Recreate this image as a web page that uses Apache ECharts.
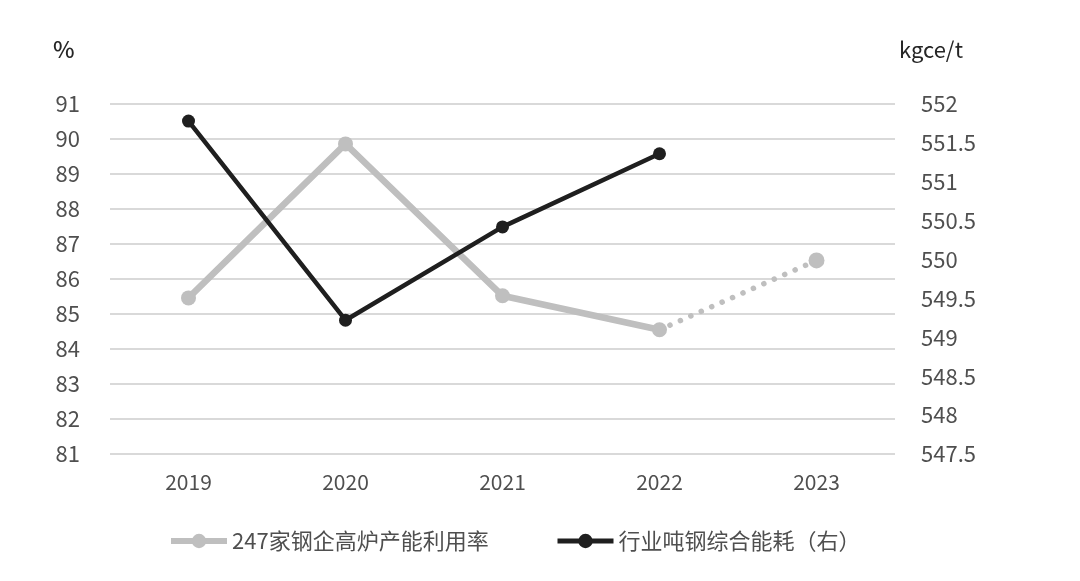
<!DOCTYPE html>
<html>
<head>
<meta charset="utf-8">
<script src="https://cdn.jsdelivr.net/npm/echarts@6/dist/echarts.min.js"></script>
<style>
html,body{margin:0;padding:0;background:#fff;}
#main{width:1080px;height:581px;}
</style>
</head>
<body>
<div id="main"></div>
<script>
const categories = ['2019', '2020', '2021', '2022', '2023'];
const utilizationName = '247家钢企高炉产能利用率';
const utilization = [85.46, 89.86, 85.52, 84.55, null];
const utilizationForecast = [null, null, null, 84.55, 86.53];
const energyName = '行业吨钢综合能耗（右）';
const energy = [551.78, 549.22, 550.42, 551.36, null];
const leftAxisName = '%';
const rightAxisName = 'kgce/t';

const FONT = '"Noto Sans CJK SC", "Noto Sans", sans-serif';
const GRAY = '#bfbfbf';
const BLACK = '#1f1f1f';
const LABEL = '#4f4f4f';

const chart = echarts.init(document.getElementById('main'));
chart.setOption({
  animation: false,
  backgroundColor: '#ffffff',
  grid: { left: 110, right: 185, top: 104, bottom: 127 },
  graphic: [
    { type: 'text', left: 53, top: 38, style: { text: leftAxisName, font: '500 23px ' + FONT, fill: '#262626' } },
    { type: 'text', left: 899, top: 39, style: { text: rightAxisName, font: '22px ' + FONT, fill: '#262626' } }
  ],
  legend: [
    {
      data: [utilizationName], left: 163, top: 525, itemWidth: 56, itemHeight: 18,
      lineStyle: { width: 6 },
      textStyle: { fontSize: 22, color: LABEL, fontFamily: FONT }
    },
    {
      data: [energyName], left: 550, top: 525, itemWidth: 56, itemHeight: 18,
      lineStyle: { width: 5 },
      textStyle: { fontSize: 22, color: LABEL, fontFamily: FONT }
    }
  ],
  xAxis: {
    type: 'category', data: categories, boundaryGap: true,
    axisLine: { show: false }, axisTick: { show: false },
    axisLabel: { color: LABEL, fontSize: 21, fontFamily: FONT, margin: 18 }
  },
  yAxis: [
    {
      type: 'value', min: 81, max: 91, interval: 1, position: 'left',
      axisLine: { show: false }, axisTick: { show: false },
      axisLabel: { color: LABEL, fontSize: 22, fontFamily: FONT, margin: 30 },
      splitLine: { lineStyle: { color: '#d9d9d9', width: 2 } }
    },
    {
      type: 'value', min: 547.5, max: 552, interval: 0.5, position: 'right',
      axisLine: { show: false }, axisTick: { show: false },
      axisLabel: { color: LABEL, fontSize: 22, fontFamily: FONT, margin: 26 },
      splitLine: { show: false }
    }
  ],
  series: [
    {
      name: utilizationName, type: 'line', yAxisIndex: 0, data: utilization,
      symbol: 'circle', symbolSize: 15, color: GRAY,
      itemStyle: { color: GRAY },
      lineStyle: { color: GRAY, width: 6.5 }, z: 2
    },
    {
      name: '247家钢企高炉产能利用率（2023）', type: 'line', yAxisIndex: 0, data: utilizationForecast.map((v, i) => i === 3 ? { value: v, symbol: 'none' } : v),
      symbol: 'circle', symbolSize: 16, color: GRAY,
      itemStyle: { color: GRAY },
      lineStyle: { color: GRAY, width: 5.5, type: [0.1, 11.3], cap: 'round' }, z: 2
    },
    {
      name: energyName, type: 'line', yAxisIndex: 1, data: energy,
      symbol: 'circle', symbolSize: 13, color: BLACK,
      itemStyle: { color: BLACK },
      lineStyle: { color: BLACK, width: 4.5 }, z: 3
    }
  ]
});
</script>
</body>
</html>
